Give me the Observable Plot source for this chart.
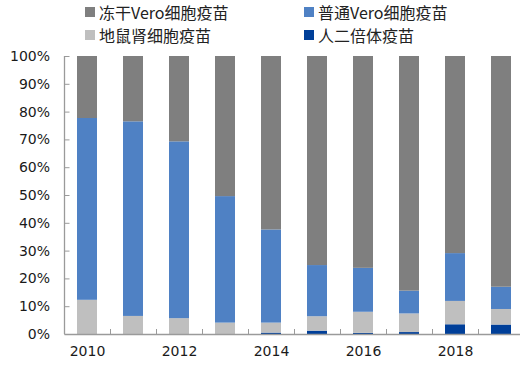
<!DOCTYPE html>
<html>
<head>
<meta charset="utf-8">
<script src="https://cdn.jsdelivr.net/npm/d3@7"></script>
<script src="https://cdn.jsdelivr.net/npm/@observablehq/plot@0.6"></script>
<style>
  html, body { margin: 0; padding: 0; background: #fff; overflow: hidden; }
  #wrap { width: 520px; height: 369px; position: relative; }
  #legend { position: relative; width: 520px; height: 46px; font-family: "Noto Sans CJK SC", "DejaVu Sans", sans-serif; font-size: 16px; color: #222; }
  .item { position: absolute; display: flex; align-items: center; white-space: nowrap; line-height: 20px; }
  .sw { width: 10px; height: 10px; margin-right: 4px; display: inline-block; }
</style>
</head>
<body>
<div id="wrap">
  <div id="legend"></div>
  <div id="chart"></div>
</div>
<script>
const years = [2010, 2011, 2012, 2013, 2014, 2015, 2016, 2017, 2018, 2019];
const seriesNames = ["人二倍体疫苗", "地鼠肾细胞疫苗", "普通Vero细胞疫苗", "冻干Vero细胞疫苗"];
const human   = [0, 0, 0, 0, 0.5, 1.2, 0.4, 0.7, 3.5, 3.4];
const hamster = [12.3, 6.5, 5.7, 4.1, 3.6, 5.2, 7.6, 6.7, 8.4, 5.6];
const vero    = [65.4, 70.0, 63.6, 45.5, 33.5, 18.4, 15.8, 8.2, 17.2, 8.0];
const freeze  = [22.3, 23.5, 30.7, 50.4, 62.4, 75.2, 76.2, 84.4, 70.9, 83.0];
const xTickLabels = [2010, 2012, 2014, 2016, 2018];
const yTicks = [0, 10, 20, 30, 40, 50, 60, 70, 80, 90, 100];
const colors = ["#003f99", "#bfbfbf", "#4f81c4", "#7f7f7f"];

const seriesValues = [human, hamster, vero, freeze];
const table = [];
seriesNames.forEach((s, si) => {
  years.forEach((yr, i) => table.push({year: yr, series: s, value: seriesValues[si][i]}));
});

// legend
const legendLayout = [
  {name: "冻干Vero细胞疫苗", left: 85, top: 2},
  {name: "普通Vero细胞疫苗", left: 304, top: 2},
  {name: "地鼠肾细胞疫苗", left: 85, top: 25},
  {name: "人二倍体疫苗", left: 304, top: 25}
];
const legend = document.getElementById("legend");
legendLayout.forEach(l => {
  const d = document.createElement("div");
  d.className = "item";
  d.style.left = l.left + "px";
  d.style.top = l.top + "px";
  const sw = document.createElement("span");
  sw.className = "sw";
  sw.style.background = colors[seriesNames.indexOf(l.name)];
  d.appendChild(sw);
  d.appendChild(document.createTextNode(l.name));
  legend.appendChild(d);
});

const axisColor = "#9a9a9a";
const half = 23;

const chart = Plot.plot({
  width: 520,
  height: 323,
  marginTop: 10,
  marginBottom: 35,
  marginLeft: 64.5,
  marginRight: -4.5,
  style: {fontFamily: "'DejaVu Sans', sans-serif", fontSize: "14px", color: "#1a1a1a", overflow: "visible"},
  x: {type: "band", domain: years, paddingInner: 0.555, paddingOuter: 0.2775, align: 0.5},
  y: {domain: [0, 100]},
  color: {domain: seriesNames, range: colors},
  marks: [
    Plot.barY(table, {x: "year", y: "value", fill: "series", order: seriesNames}),
    Plot.ruleY([0], {stroke: axisColor, strokeWidth: 1.3}),
    Plot.ruleX([years[0]], {y1: 0, y2: 100, dx: -half, stroke: axisColor, strokeWidth: 1.3}),
    Plot.axisY({ticks: yTicks, tickSize: 5, dx: 5, tickFormat: () => "", stroke: axisColor, label: null}),
    Plot.axisY({ticks: yTicks, tickSize: 0, tickPadding: 15, tickFormat: d => d + "%", fill: "#1a1a1a", label: null}),
    Plot.axisX({ticks: years.slice(1), tickSize: 5, dx: -half, dy: -5, tickFormat: () => "", stroke: axisColor, label: null}),
    Plot.axisX({ticks: xTickLabels, tickSize: 0, tickPadding: 12, tickFormat: d => String(d), fill: "#1a1a1a", label: null})
  ]
});
document.getElementById("chart").appendChild(chart);
</script>
</body>
</html>
